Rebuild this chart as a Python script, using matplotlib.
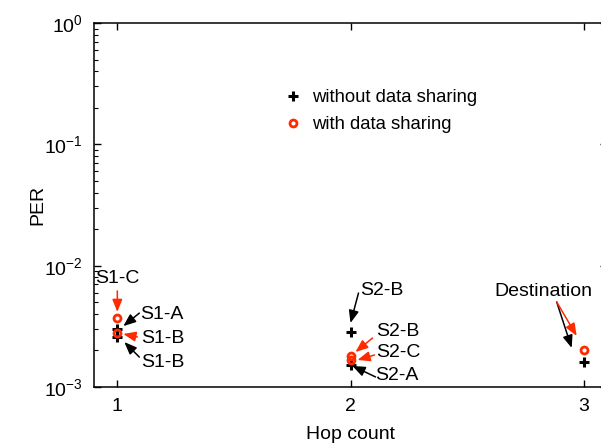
import numpy as np
import matplotlib
matplotlib.use('Agg')
import matplotlib.pyplot as plt
from matplotlib.ticker import LogLocator, NullFormatter
from matplotlib.transforms import offset_copy

plt.rcParams['font.family'] = ['Liberation Sans', 'DejaVu Sans']
plt.rcParams['mathtext.default'] = 'regular'

# data
hop_without = [1, 1, 2, 2, 3]
per_without = [3.0e-3, 2.58e-3, 2.84e-3, 1.52e-3, 1.61e-3]
hop_with = [1, 1, 2, 2, 3]
per_with = [3.71e-3, 2.79e-3, 1.80e-3, 1.67e-3, 2.02e-3]
xticks = [1, 2, 3]

fig = plt.figure(figsize=(6.01, 4.47), dpi=100)
ax = fig.add_axes([94 / 601, 60 / 447, 513 / 601, 364 / 447])

ax.plot(hop_without, per_without, '+', color='black', ms=6.5, mew=2.2,
        label='without data sharing', zorder=3)
ax.plot(hop_with, per_with, 'o', mfc='none', mec='#ff2a00', ms=5, mew=2.0,
        label='with data sharing', zorder=4)

ax.set_yscale('log')
ax.set_ylim(1e-3, 1)
ax.set_xlim(0.9, 3.1)
ax.set_xticks(xticks)
ax.yaxis.set_major_locator(LogLocator(base=10, numticks=5))
ax.yaxis.set_minor_locator(LogLocator(base=10, subs=np.arange(2, 10), numticks=20))
ax.yaxis.set_minor_formatter(NullFormatter())
ax.tick_params(which='both', direction='in', top=True, right=True, labelsize=14)
ax.tick_params(which='major', length=5, width=1, pad=8)
ax.tick_params(which='minor', length=3, width=0.8)
for s in ax.spines.values():
    s.set_linewidth(1.1)

ax.set_xlabel('Hop count', fontsize=14, va='top')
ax.xaxis.set_label_coords(0.5, (387 - 426) / 364)
ax.set_ylabel('PER', fontsize=14)
ax.yaxis.set_label_coords((46 - 94) / 513, 0.5)

leg = ax.legend(loc='upper left', bbox_to_anchor=(275 / 601, 1 - 80 / 447),
                bbox_transform=fig.transFigure, frameon=False, numpoints=1,
                handlelength=0.9, handletextpad=0.6, labelspacing=0.55,
                borderpad=0, fontsize=13.3)

red = '#ff2a00'
# (label, x, y, text offset px, arrow tip offset px, arrow tail offset px, color, ha)
notes = [
    ('S1-C', hop_with[0], per_with[0], (0, 39), (0, 6), (0, 27), red, 'center'),
    ('S1-A', hop_without[0], per_without[0], (23, 15), (6, 3), (22, 16), 'black', 'left'),
    ('S1-B', hop_with[1], per_with[1], (24, -6), (6, -1), (20, -4), red, 'left'),
    ('S1-B', hop_without[1], per_without[1], (24, -25), (7, -5), (22, -20), 'black', 'left'),
    ('S2-B', hop_without[2], per_without[2], (10, 41), (0, 9), (8, 39), 'black', 'left'),
    ('S2-B', hop_with[2], per_with[2], (26, 25), (5, 4), (22, 18), red, 'left'),
    ('S2-C', hop_with[3], per_with[3], (26, 7), (7, 0), (24, 5), red, 'left'),
    ('S2-A', hop_without[3], per_without[3], (25, -11), (2, -1), (25, -12), 'black', 'left'),
    ('Destination', hop_without[4], per_without[4], (-40, 70), (-12, 14), (-27, 60), 'black', 'center'),
    ('', hop_with[4], per_with[4], (0, 0), (-7, 14), (-27, 48), red, 'center'),
]
for label, x, y, toff, tip, tail, col, ha in notes:
    tip_tr = offset_copy(ax.transData, fig=fig, x=tip[0], y=tip[1], units='dots')
    ax.annotate('', xy=(x, y), xycoords=tip_tr,
                xytext=(tail[0] - tip[0], tail[1] - tip[1]), textcoords='offset pixels',
                arrowprops=dict(arrowstyle='-|>,head_length=0.75,head_width=0.3',
                                color=col, lw=1.1, shrinkA=0, shrinkB=0))
    if label:
        ax.annotate(label, xy=(x, y), xytext=toff, textcoords='offset pixels',
                    ha=ha, va='center', fontsize=14)

fig.savefig('out.png', dpi=100)
